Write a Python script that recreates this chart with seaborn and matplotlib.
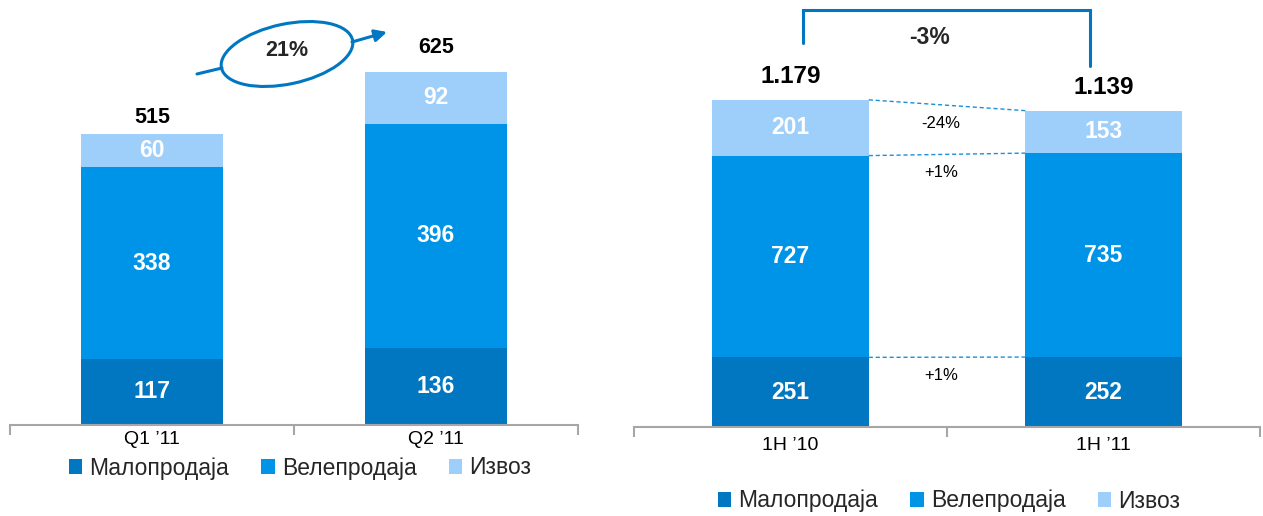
import numpy as np
import matplotlib
matplotlib.use("Agg")
import matplotlib.pyplot as plt
import seaborn as sns
from matplotlib.patches import Ellipse, Patch
from matplotlib.transforms import Affine2D
from matplotlib.lines import Line2D

# ---------------- data ----------------
series = ["Малопродаја", "Велепродаја", "Извоз"]
colors = ["#0077C0", "#0094E9", "#9ECEFA"]

q_periods = ["Q1 ’11", "Q2 ’11"]
q_retail = [117, 136]
q_wholesale = [338, 396]
q_export = [60, 92]
q_totals = ["515", "625"]
q_growth = "21%"

h_periods = ["1H ’10", "1H ’11"]
h_retail = [251, 252]
h_wholesale = [727, 735]
h_export = [201, 153]
h_totals = ["1.179", "1.139"]
h_growth = "-3%"
h_seg_changes = ["+1%", "+1%", "-24%"]   # retail, wholesale, export

# ---------------- layout ----------------
W, H = 1263, 516
sns.set_theme(style="white")
plt.rcParams['font.family'] = ['Liberation Sans', 'DejaVu Sans']

fig = plt.figure(figsize=(W / 100, H / 100), dpi=100)
ax1 = fig.add_axes([10 / W, (H - 425) / H, 568 / W, 425 / H])
ax2 = fig.add_axes([634 / W, (H - 427) / H, 626 / W, 427 / H])
px = Affine2D().scale(1 / W, 1 / H) + fig.transFigure   # pixel coords (y up)


def P(x, y):
    return (x, H - y)


def draw_stack(ax, periods, segs, totals, ymax, total_offsets, total_fs, seg_fs, pad):
    segs = np.array(segs, dtype=float)
    cum = np.cumsum(segs, axis=0)
    for i in reversed(range(len(segs))):
        sns.barplot(x=periods, y=cum[i], color=colors[i], width=0.5, ax=ax,
                    saturation=1, linewidth=0, errorbar=None)
    for i in range(len(segs)):
        for j in range(len(periods)):
            ax.text(j, cum[i][j] - segs[i][j] / 2, f"{int(segs[i][j])}",
                    ha="center", va="center", color="white",
                    fontsize=seg_fs, fontweight="bold")
    for j, t in enumerate(totals):
        ax.annotate(t, (j, cum[-1][j]), xytext=(0, total_offsets[j] * 0.72),
                    textcoords="offset points", ha="center", va="center",
                    fontsize=total_fs, fontweight="bold", color="black")
    ax.set_ylim(0, ymax)
    ax.set_xlim(-0.5, 1.5)
    for s in ["top", "right", "left"]:
        ax.spines[s].set_visible(False)
    ax.spines["bottom"].set_color("#A6A6A6")
    ax.spines["bottom"].set_linewidth(1.5)
    ax.set_yticks([])
    ax.set_xlabel("")
    ax.set_ylabel("")
    ax.set_xticks([-0.5, 0.5, 1.5], minor=True)
    ax.tick_params(axis="x", which="minor", length=7, width=1.5,
                   color="#A6A6A6", direction="out", bottom=True)
    ax.tick_params(axis="x", which="major", length=0, pad=pad, labelsize=14,
                   labelcolor="black")
    ax.patch.set_alpha(0)
    return cum


q_cum = draw_stack(ax1, q_periods, [q_retail, q_wholesale, q_export], q_totals,
                   425 / 0.566, [16, 24], 15.5, 16.5, 4)
h_cum = draw_stack(ax2, h_periods, [h_retail, h_wholesale, h_export], h_totals,
                   427 / 0.2775, [23, 23], 17.5, 16.5, 7)

# ---- left growth annotation: ellipse + arrow ----
fig.add_artist(Ellipse(P(287, 54), width=134, height=60, angle=12, fill=False,
                       ec="#0077C0", lw=2.2, transform=px))
fig.add_artist(Line2D([197, 222], [H - 74, H - 68], color="#0077C0", lw=2.2,
                      transform=px))
ax1.annotate("", xy=P(387, 32), xycoords=px, xytext=P(352, 42), textcoords=px,
             arrowprops=dict(arrowstyle="-|>", color="#0077C0", lw=2.2,
                             mutation_scale=18, shrinkA=0, shrinkB=0))
fig.text(287 / W, 1 - 50 / H, q_growth, ha="center", va="center",
         fontsize=15.5, fontweight="bold")

# ---- right growth bracket ----
fig.add_artist(Line2D([803, 803, 1090, 1090], [H - 43, H - 10, H - 10, H - 66],
                      color="#0077C0", lw=2.2, transform=px,
                      solid_joinstyle="miter"))
fig.text(929 / W, 1 - 37 / H, h_growth, ha="center", va="center",
         fontsize=16.5, fontweight="bold")

# ---- dashed connectors and segment changes ----
for i in range(3):
    ax2.plot([0.25, 0.75], [h_cum[i][0], h_cum[i][1]], color="#1B8FD8",
             lw=1, ls=(0, (3, 2)))
    ax2.annotate(h_seg_changes[i], (0.48, (h_cum[i][0] + h_cum[i][1]) / 2),
                 xytext=(0, -18 * 0.72), textcoords="offset points",
                 ha="center", va="center", fontsize=12, color="black")

# ---- legends ----
handles = [Patch(facecolor=c, edgecolor="none") for c in colors]
leg_kw = dict(loc="center", ncol=3, frameon=False, fontsize=16.5,
              handlelength=0.6, handleheight=0.6, handletextpad=0.3,
              columnspacing=1.4, borderpad=0, borderaxespad=0)
fig.legend(handles, series, bbox_to_anchor=(300 / W, 1 - 468 / H), **leg_kw)
fig.legend(handles, series, bbox_to_anchor=(949 / W, 1 - 501 / H), **leg_kw)

fig.savefig("out.png", dpi=100, facecolor="white")
